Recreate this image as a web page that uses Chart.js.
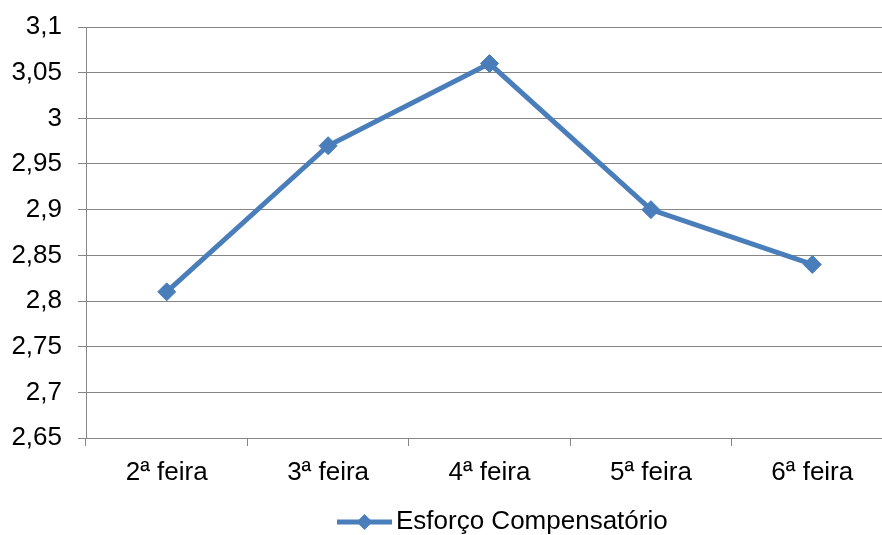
<!DOCTYPE html>
<html>
<head>
<meta charset="utf-8">
<script src="https://cdn.jsdelivr.net/npm/chart.js@4.4.1/dist/chart.umd.min.js"></script>
<style>
  html, body { margin: 0; background: #fff; overflow: hidden; width: 882px; height: 535px; }
  #wrap { width: 882px; height: 535px; overflow: hidden; position: relative; }
  #esforco { position: absolute; left: 0; top: 0; }
</style>
</head>
<body>
<div id="wrap"><canvas id="esforco" width="893" height="535"></canvas></div>
<script>
const dias = ["2ª feira", "3ª feira", "4ª feira", "5ª feira", "6ª feira"];
const esforco = [2.81, 2.97, 3.06, 2.90, 2.84];
const serieNome = "Esforço Compensatório";
const yMin = 2.65, yMax = 3.1, yPasso = 0.05;

const azul = "#4a7ebb";
const cinza = "#868686";

Chart.defaults.font.family = "'Liberation Sans', Arial, sans-serif";
Chart.defaults.font.size = 26;
Chart.defaults.color = "#000";

// legenda em baixo: linha com losango + nome da série
const legenda = {
  id: "legenda",
  afterDraw(chart) {
    const ctx = chart.ctx;
    const ds = chart.data.datasets[0];
    const y = 522, x0 = 337, x1 = 392, xm = (x0 + x1) / 2, r = 8;
    ctx.save();
    ctx.strokeStyle = ds.borderColor;
    ctx.lineWidth = ds.borderWidth;
    ctx.beginPath();
    ctx.moveTo(x0, y);
    ctx.lineTo(x1, y);
    ctx.stroke();
    ctx.fillStyle = ds.pointBackgroundColor;
    ctx.beginPath();
    ctx.moveTo(xm, y - r);
    ctx.lineTo(xm + r, y);
    ctx.lineTo(xm, y + r);
    ctx.lineTo(xm - r, y);
    ctx.closePath();
    ctx.fill();
    ctx.fillStyle = "#000";
    ctx.font = "26px 'Liberation Sans', Arial, sans-serif";
    ctx.textBaseline = "middle";
    ctx.fillText(ds.label, x1 + 4, y);
    ctx.restore();
  }
};

new Chart(document.getElementById("esforco"), {
  type: "line",
  data: {
    labels: dias,
    datasets: [{
      label: serieNome,
      data: esforco,
      borderColor: azul,
      borderWidth: 5,
      pointStyle: "rectRot",
      pointRadius: 9,
      pointBackgroundColor: azul,
      pointBorderColor: azul,
      pointBorderWidth: 1,
      tension: 0
    }]
  },
  options: {
    responsive: false,
    animation: false,
    devicePixelRatio: 1,
    layout: { autoPadding: false, padding: { left: 0, top: 27, right: 0, bottom: 47 } },
    plugins: { legend: { display: false }, tooltip: { enabled: false } },
    scales: {
      x: {
        offset: true,
        grid: { offset: true, drawOnChartArea: false, color: cinza, tickLength: 8 },
        border: { color: cinza },
        ticks: { padding: 11 },
        afterFit(s) { s.height = 50; s.paddingLeft = 0; s.paddingRight = 0; }
      },
      y: {
        min: yMin,
        max: yMax,
        grid: { color: cinza, tickLength: 8 },
        border: { color: cinza },
        ticks: {
          stepSize: yPasso,
          padding: 16,
          callback: v => String(Number(v.toFixed(2))).replace(".", ",")
        },
        afterFit(s) { s.width = 86; s.paddingTop = 0; s.paddingBottom = 0; }
      }
    }
  },
  plugins: [legenda]
});
</script>
</body>
</html>
